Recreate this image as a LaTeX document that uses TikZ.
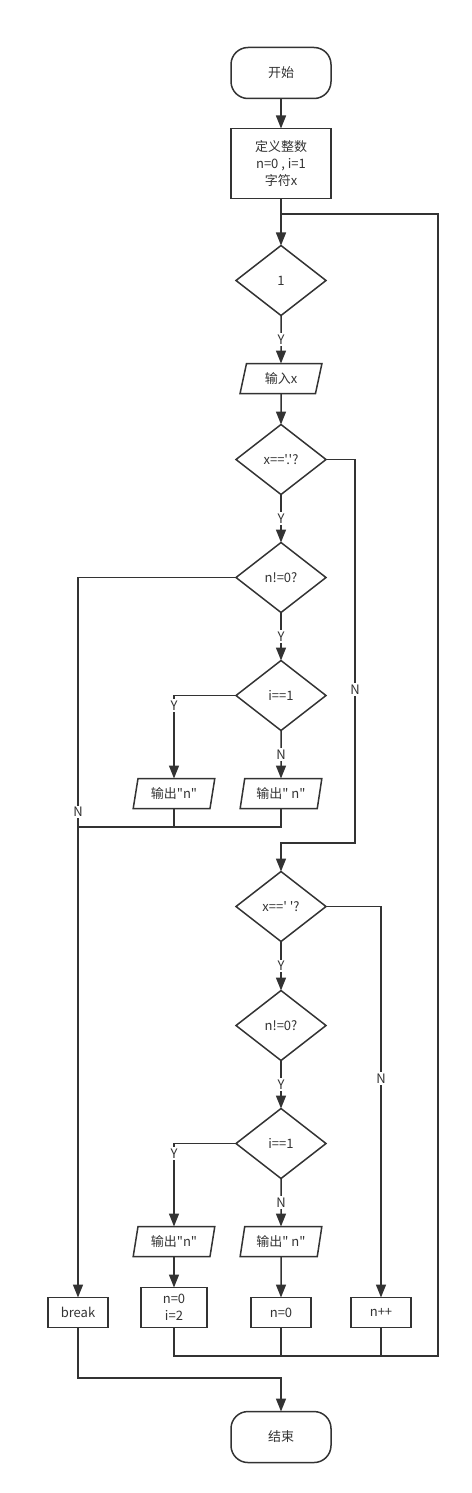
\documentclass[tikz,border=0pt]{standalone}
\usepackage{fontspec}
\setmainfont{Noto Sans CJK SC}[Ligatures=TeXOff]
\usetikzlibrary{positioning,arrows.meta,shapes.geometric}
\definecolor{ink}{HTML}{333333}

\begin{document}
\begin{tikzpicture}[
    x=1pt, y=-1pt,
    font=\fontsize{13pt}{17pt}\selectfont,
    color=ink,
    line width=1.5pt,
    >={Triangle[width=10pt,length=13pt]},
    every node/.style={outer sep=0pt},
    termbox/.style={
        draw,
        rounded corners=17pt,
        minimum width=100pt,
        minimum height=51pt,
        inner sep=2pt
    },
    procbox/.style={
        draw,
        align=center,
        minimum width=60pt,
        minimum height=30pt,
        inner sep=2pt
    },
    decision/.style={
        draw,
        diamond,
        aspect=1.3,
        minimum width=90pt,
        minimum height=70pt,
        inner sep=0pt
    },
    iobox/.style={
        draw,
        trapezium,
        trapezium left angle=77,
        trapezium right angle=103,
        trapezium stretches=true,
        minimum width=82pt,
        minimum height=30pt,
        inner sep=1pt
    },
    lbl/.style={fill=white, inner sep=1.5pt}
]

    \useasboundingbox (0,0) rectangle (471,1493);

    \node[termbox] (start) at (281,73) {开始};
    \node[procbox, minimum width=100pt, minimum height=70pt, below=30pt of start] (init) {
        定义整数\\
        n=0 , i=1\\
        字符x
    };
    \node[decision, below=47pt of init] (d1) {1};
    \node[iobox, below=48pt of d1] (inx) {输入x};
    \node[decision, below=31pt of inx] (d2) {x=='.'?};
    \node[decision, below=48pt of d2] (d3) {n!=0?};
    \node[decision, below=48pt of d3] (d4) {i==1};
    \node[iobox, below=48pt of d4] (o2) {输出" n"};
    \node[iobox] (o1) at (174,793.5) {输出"n"};
    \node[decision, below=63pt of o2] (d5) {x==' '?};
    \node[decision, below=49pt of d5] (d6) {n!=0?};
    \node[decision, below=48pt of d6] (d7) {i==1};
    \node[iobox, below=48pt of d7] (o4) {输出" n"};
    \node[iobox] (o3) at (174,1241.5) {输出"n"};
    \node[procbox, below=41pt of o4] (set1) {n=0};
    \node[procbox, minimum width=66pt, minimum height=40pt] (set2) at (174,1307.5) {n=0\\i=2};
    \node[procbox] (brk) at (78,1312.5) {break};
    \node[procbox] (inc) at (381,1312.5) {n++};
    \node[termbox, below=84pt of set1] (stop) {结束};

    \coordinate (r1) at (355,843);
    \coordinate (lj) at (78,827);
    \coordinate (railT) at (438,214);
    \coordinate (railB) at (438,1356);
    \coordinate (ej) at (281,1378);

    \draw[->] (start) -- (init);
    \draw[->] (init) -- (d1);
    \draw[->] (d1) -- node[lbl]{Y} (inx);
    \draw[->] (inx) -- (d2);
    \draw[->] (d2) -- node[lbl]{Y} (d3);
    \draw[->] (d2.east) -| node[lbl, pos=0.8]{N} (r1) -| (d5.north);
    \draw[->] (d3) -- node[lbl]{Y} (d4);
    \draw[->] (d3.west) -| node[lbl, pos=0.663]{N} (brk.north);
    \draw[->] (d4.west) -| node[lbl, pos=0.56]{Y} (o1.north);
    \draw[->] (d4) -- node[lbl]{N} (o2);
    \draw (o2.south) |- (lj);
    \draw (o1.south) -- (o1.south |- lj);
    \draw[->] (d5) -- node[lbl]{Y} (d6);
    \draw[->] (d5.east) -| node[lbl, pos=0.72]{N} (inc.north);
    \draw[->] (d6) -- node[lbl]{Y} (d7);
    \draw[->] (d7.west) -| node[lbl, pos=0.56]{Y} (o3.north);
    \draw[->] (d7) -- node[lbl]{N} (o4);
    \draw[->] (o3) -- (set2);
    \draw[->] (o4) -- (set1);
    \draw (set2.south) |- (railB) -- (railT) -- (railT -| init.south);
    \draw (set1.south) -- (set1.south |- railB);
    \draw (inc.south) -- (inc.south |- railB);
    \draw[->] (brk.south) |- (ej) -- (stop);

\end{tikzpicture}
\end{document}
